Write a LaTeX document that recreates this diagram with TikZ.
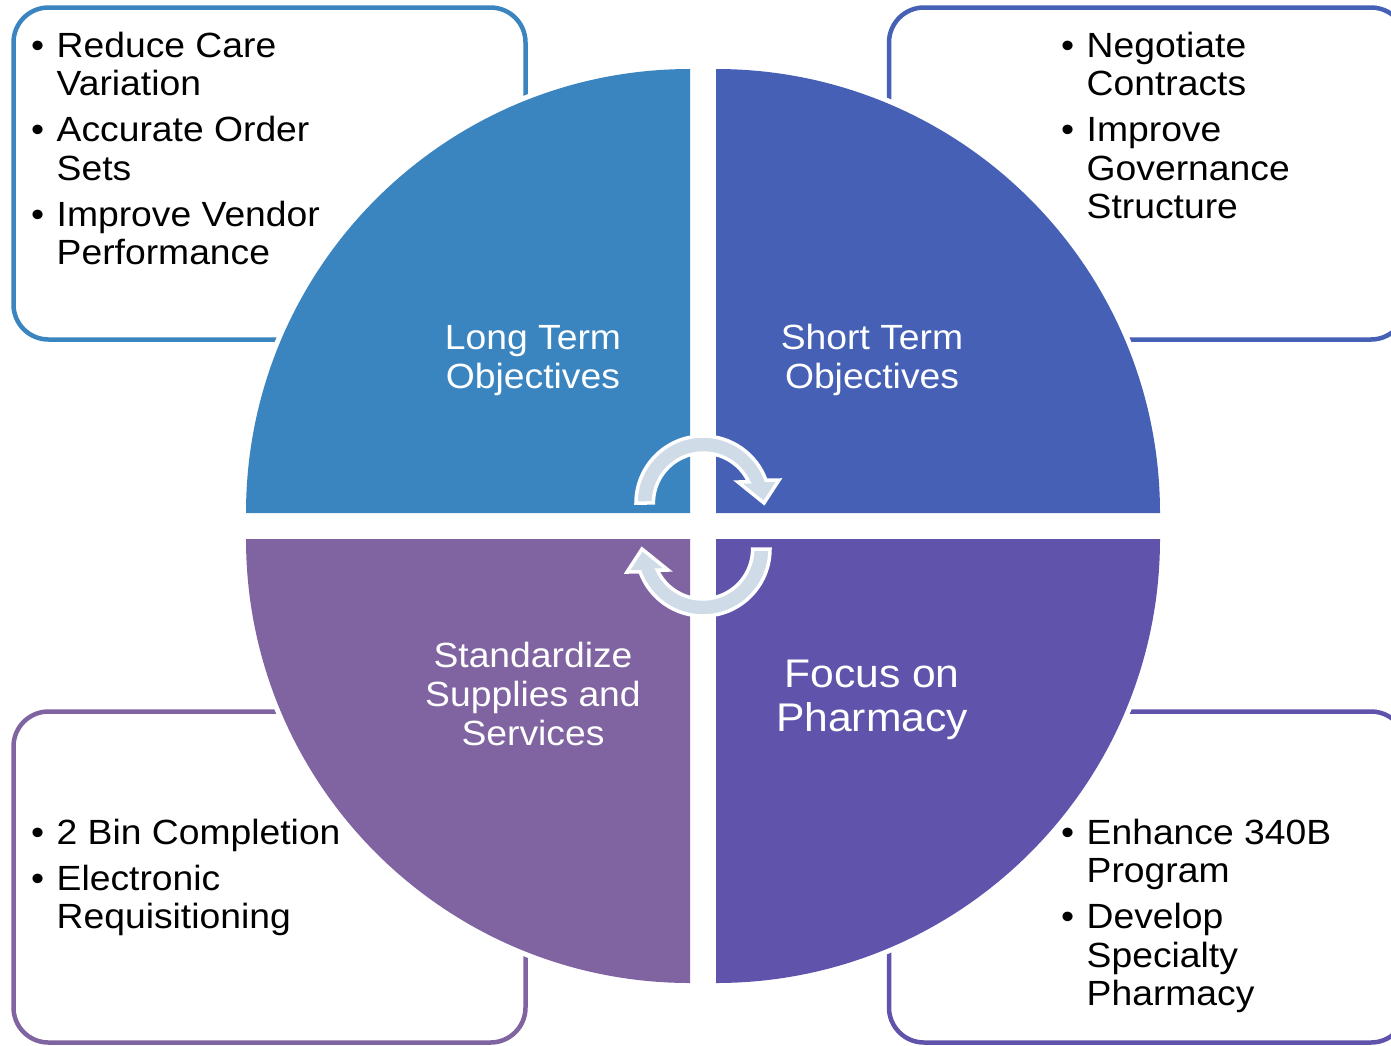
\documentclass[tikz,border=0pt]{standalone}
\usepackage{fontspec}
\setmainfont{Liberation Sans}[FakeStretch=1.065]
\definecolor{qa}{HTML}{3A85BF}
\definecolor{qb}{HTML}{4560B5}
\definecolor{qc}{HTML}{7F64A1}
\definecolor{qd}{HTML}{5F53AB}
\definecolor{arrowc}{HTML}{CFDBE7}
\newcommand\bulletmark{\makebox[25.5pt][l]{•}}
\begin{document}
\begin{tikzpicture}[x=1pt,y=1pt,
  box/.style={line width=4.5pt, rounded corners=35pt},
  quadw/.style={draw=white, line width=10pt},
  lbl/.style={text=white, inner sep=0pt, anchor=base, font=\fontsize{35}{39}\selectfont},
  blt/.style={inner sep=0pt, anchor=base west, text=black, font=\fontsize{35}{38.5}\selectfont},
  cyc/.style={fill=arrowc, draw=white, line width=3.5pt}]
\clip (0,0) rectangle (1391,-1045);
\fill[white] (0,0) rectangle (1391,-1045);
% outer boxes
\draw[box, draw=qa] (13.5,-7.5) rectangle (525.5,-339.5);
\draw[box, draw=qb] (889,-7.5) rectangle (1406,-339.5);
\draw[box, draw=qc] (13.5,-711.5) rectangle (525.5,-1042.5);
\draw[box, draw=qd] (889,-711.5) rectangle (1406,-1042.5);
% white halo of the quadrants
\path[quadw] (690,-513) -- (246,-513) arc[start angle=180,end angle=90,radius=444] -- cycle;
\path[quadw] (716,-513) -- (716,-69) arc[start angle=90,end angle=0,radius=444] -- cycle;
\path[quadw] (690,-539) -- (246,-539) arc[start angle=180,end angle=270,radius=444] -- cycle;
\path[quadw] (716,-539) -- (1160,-539) arc[start angle=0,end angle=-90,radius=444] -- cycle;
% quadrants
\fill[qa] (690,-513) -- (246,-513) arc[start angle=180,end angle=90,radius=444] -- cycle;
\fill[qb] (716,-513) -- (716,-69) arc[start angle=90,end angle=0,radius=444] -- cycle;
\fill[qc] (690,-539) -- (246,-539) arc[start angle=180,end angle=270,radius=444] -- cycle;
\fill[qd] (716,-539) -- (1160,-539) arc[start angle=0,end angle=-90,radius=444] -- cycle;
% cycle arrows
\path[cyc] (636,-503) arc[start angle=180,end angle=20,radius=67] -- (779,-480) -- (764,-503) -- (738,-482) -- (748.7,-481.85) arc[start angle=25,end angle=180,radius=50] -- cycle;
\begin{scope}[rotate around={180:(703,-526)}]
\path[cyc] (636,-503) arc[start angle=180,end angle=20,radius=67] -- (779,-480) -- (764,-503) -- (738,-482) -- (748.7,-481.85) arc[start angle=25,end angle=180,radius=50] -- cycle;
\end{scope}
% quadrant labels
\node[lbl] (lt) at (533,-349) {\begin{tabular}[t]{@{}c@{}}Long Term\\Objectives\end{tabular}};
\node[lbl] (st) at (872,-349) {\begin{tabular}[t]{@{}c@{}}Short Term\\Objectives\end{tabular}};
\node[lbl] (ss) at (533,-667) {\begin{tabular}[t]{@{}c@{}}Standardize\\Supplies and\\Services\end{tabular}};
\node[lbl, font=\fontsize{40}{44}\selectfont] (fp) at (872,-687) {\begin{tabular}[t]{@{}c@{}}Focus on\\Pharmacy\end{tabular}};
% bullet lists
\node[blt] (ltlist) at (31,-57) {\begin{tabular}[t]{@{}l@{}l@{}}\bulletmark & Reduce Care\\ & Variation\\[7.5pt] \bulletmark & Accurate Order\\ & Sets\\[7.5pt] \bulletmark & Improve Vendor\\ & Performance\end{tabular}};
\node[blt] (stlist) at (1061,-57) {\begin{tabular}[t]{@{}l@{}l@{}}\bulletmark & Negotiate\\ & Contracts\\[7.5pt] \bulletmark & Improve\\ & Governance\\ & Structure\end{tabular}};
\node[blt] (sslist) at (31,-844) {\begin{tabular}[t]{@{}l@{}l@{}}\bulletmark & 2 Bin Completion\\[7.5pt] \bulletmark & Electronic\\ & Requisitioning\end{tabular}};
\node[blt] (fplist) at (1061,-844) {\begin{tabular}[t]{@{}l@{}l@{}}\bulletmark & Enhance 340B\\ & Program\\[7.5pt] \bulletmark & Develop\\ & Specialty\\ & Pharmacy\end{tabular}};
\end{tikzpicture}
\end{document}
